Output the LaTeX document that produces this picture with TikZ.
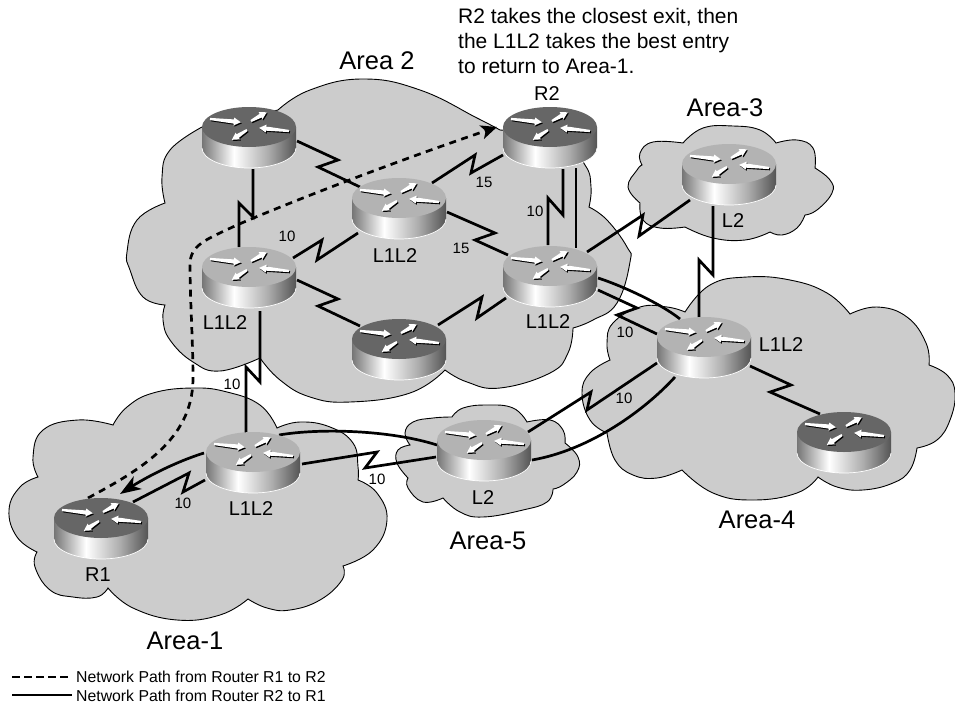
\documentclass[tikz,border=0pt]{standalone}
\usepackage{fontspec}
\setmainfont{Liberation Sans}
\usetikzlibrary{arrows.meta}
\definecolor{cloudgray}{HTML}{CCCCCC}
\definecolor{rlight}{HTML}{B3B3B3}
\definecolor{rdark}{HTML}{666666}
\definecolor{rb1}{gray}{0.46}
\definecolor{rb2}{gray}{1.00}
\definecolor{rb3}{gray}{0.68}
\definecolor{rb4}{gray}{0.33}
\pgfdeclarehorizontalshading{rbody}{100bp}{color(0bp)=(rb1); color(25bp)=(rb1); color(42bp)=(rb2); color(60bp)=(rb3); color(75bp)=(rb4); color(100bp)=(rb4)}
\newcommand{\rmark}[4]{%
  \begin{scope}[shift={(#1+1,#2+1.2)},rotate=#3]
    \fill[black] (0,-1.1)--(#4-7,-2.1)--(#4-7,-4)--(#4,0)--(#4-7,4)--(#4-7,2.1)--(0,1.1)--cycle;
  \end{scope}
  \begin{scope}[shift={(#1,#2)},rotate=#3]
    \fill[white] (0,-1.1)--(#4-7,-2.1)--(#4-7,-4)--(#4,0)--(#4-7,4)--(#4-7,2.1)--(0,1.1)--cycle;
  \end{scope}}
\tikzset{
  sm/.style={smooth,tension=0.75},
  routerbox/.style={minimum width=94pt,minimum height=62pt,inner sep=0pt,draw=none},
  cloud/.style={fill=cloudgray,draw=black,line width=0.9pt,line join=miter},
  link/.style={draw=black,line width=2.7pt,line join=miter,miter limit=10},
  dashpath/.style={draw=black,line width=2.7pt,dash pattern=on 7pt off 5.5pt},
  tipa/.style={-{Stealth[length=21pt,width=15pt,inset=6pt]}},
  tipb/.style={-{Stealth[length=16pt,width=14pt,inset=4pt]}},
  area/.style={font=\fontsize{25.5}{28}\selectfont,inner sep=0pt},
  rlabel/.style={font=\fontsize{20}{22}\selectfont,inner sep=0pt},
  metric/.style={font=\fontsize{15}{17}\selectfont,inner sep=0pt},
  legendtext/.style={font=\fontsize{15.8}{18}\selectfont,inner sep=0pt,anchor=west},
  pics/router/.style={code={
    \begin{scope}[shift={(0,-10)}]
      \shade[shading=rbody] (-47,0)--(-47,21) .. controls (-47,32) and (-26,41) .. (0,41) .. controls (26,41) and (47,32) .. (47,21)--(47,0)--cycle;
      \draw[white,line width=0.7pt] (-47,21) .. controls (-47,32) and (-26,41) .. (0,41) .. controls (26,41) and (47,32) .. (47,21);
      \fill[#1] (0,0) ellipse [x radius=47,y radius=20];
      \rmark{-39}{-8}{-6}{31}
      \rmark{2}{-6}{29}{18}
      \rmark{-2}{3}{213}{18}
      \rmark{40}{4}{174}{30}
    \end{scope}}}
}
\begin{document}
\begin{tikzpicture}[x=1pt,y=-1pt]
\useasboundingbox (0,0) rectangle (955,704);
% clouds
\filldraw[cloud] plot[sm] coordinates {(278,110)(310,90)(363,79)(420,90)(477,118)(500,130)}
 -- plot[sm] coordinates {(500,130)(560,140)(585,165)(591,187)(589,207)}
 -- plot[sm] coordinates {(589,207)(607,220)(627,247)(630,262)(617,303)(593,320)(573,328)}
 -- plot[sm] coordinates {(573,328)(568,353)(550,373)(500,388)(467,382)(445,370)}
 -- plot[sm] coordinates {(445,370)(410,393)(350,402)(310,397)(280,380)(260,358)}
 -- plot[sm] coordinates {(260,358)(220,371)(193,362)(170,340)(163,320)(165,305)}
 -- plot[sm] coordinates {(165,305)(143,297)(130,270)(127,252)(137,220)(165,203)}
 -- plot[sm] coordinates {(165,203)(162,177)(170,150)(202,127)}
 -- (278,110) -- cycle;
\filldraw[cloud] plot[sm] coordinates {(683,143)(703,128)(733,126)(760,130)(776,143)}
 -- plot[sm] coordinates {(776,143)(797,140)(813,148)(815,168)}
 -- plot[sm] coordinates {(815,168)(830,180)(832,193)(817,210)(805,215)}
 -- plot[sm] coordinates {(805,215)(797,228)(782,235)(770,232)}
 -- plot[sm] coordinates {(770,232)(745,240)(713,238)(685,227)}
 -- plot[sm] coordinates {(685,227)(660,228)(643,220)(640,203)}
 -- plot[sm] coordinates {(640,203)(628,187)(637,170)(642,165)}
 -- plot[sm] coordinates {(642,165)(640,153)(653,142)(683,143)} -- cycle;
\filldraw[cloud] plot[sm] coordinates {(685,312)(710,285)(747,277)(790,280)(827,293)(850,314)}
 -- plot[sm] coordinates {(850,314)(877,307)(907,317)(926,343)(929,365)}
 -- plot[sm] coordinates {(929,365)(947,375)(955,393)(950,420)(937,440)(917,448)}
 -- plot[sm] coordinates {(917,448)(910,470)(893,483)(863,490)(837,487)(818,477)}
 -- plot[sm] coordinates {(818,477)(797,493)(753,500)(713,493)(682,470)}
 -- plot[sm] coordinates {(682,470)(657,478)(633,475)(615,460)(607,433)}
 -- plot[sm] coordinates {(607,433)(590,420)(582,393)(590,373)(610,360)}
 -- plot[sm] coordinates {(610,360)(607,343)(613,323)(640,307)(667,307)(685,312)} -- cycle;
\filldraw[cloud] plot[sm] coordinates {(452,417)(463,408)(487,405)(513,408)(527,422)}
 -- plot[sm] coordinates {(527,422)(550,420)(563,430)(565,443)}
 -- plot[sm] coordinates {(565,443)(578,457)(577,472)(563,485)(553,489)}
 -- plot[sm] coordinates {(553,489)(547,502)(523,510)(483,517)(460,512)(443,498)}
 -- plot[sm] coordinates {(443,498)(423,502)(408,488)(408,478)}
 -- plot[sm] coordinates {(408,478)(397,463)(398,450)(410,445)}
 -- plot[sm] coordinates {(410,445)(405,433)(413,422)(433,418)(452,417)} -- cycle;
\filldraw[cloud] plot[sm] coordinates {(113,425)(78,420)(43,430)(33,457)(38,477)}
 -- plot[sm] coordinates {(38,477)(20,487)(9,510)(17,537)(37,552)}
 -- plot[sm] coordinates {(37,552)(35,567)(50,590)(73,597)(97,597)(108,588)}
 -- plot[sm] coordinates {(108,588)(133,608)(177,620)(220,615)(248,599)}
 -- plot[sm] coordinates {(248,599)(267,608)(290,610)(320,600)(342,580)(343,566)}
 -- plot[sm] coordinates {(343,566)(373,550)(387,520)(377,493)(358,480)}
 -- plot[sm] coordinates {(358,480)(358,467)(353,443)(330,427)(300,422)(277,428)}
 -- plot[sm] coordinates {(277,428)(260,405)(227,392)(193,388)(153,393)(127,407)(113,425)} -- cycle;
% router nodes
\node[routerbox] (A) at (249,137) {};
\node[routerbox] (B) at (399,208) {};
\node[routerbox] (C) at (249,277) {};
\node[routerbox] (D) at (399,349) {};
\node[routerbox] (R2) at (550,137) {};
\node[routerbox] (E) at (550,276) {};
\node[routerbox] (F) at (729,174) {};
\node[routerbox] (G) at (704,347) {};
\node[routerbox] (H) at (844,442) {};
\node[routerbox] (I) at (484,450) {};
\node[routerbox] (J) at (253,462) {};
\node[routerbox] (R1) at (101,528) {};
% serial links
\draw[link] ([shift={(4,32)}]A.center) -- (253,217) -- (239,203) -- ([shift={(-10,-30)}]C.center);
\draw[link] ([shift={(48,4)}]A.center) -- (338,160) -- (318,167) -- ([shift={(-39,-21)}]B.center);
\draw[link] ([shift={(44,-19)}]C.center) -- (322,240) -- (317,260) -- ([shift={(-41,25)}]B.center);
\draw[link] ([shift={(48,3)}]C.center) -- (338,299) -- (318,306) -- ([shift={(-39,-23)}]D.center);
\draw[link] ([shift={(33,-25)}]B.center) -- (475,155) -- (471,173) -- ([shift={(-47,18)}]R2.center);
\draw[link] ([shift={(48,4)}]B.center) -- (495,233) -- (475,240) -- ([shift={(-42,-21)}]E.center);
\draw[link] ([shift={(13,32)}]R2.center) -- (563,215) -- (548,198) -- ([shift={(-2,-31)}]E.center);
\draw[link] ([shift={(26,31)}]R2.center) -- ([shift={(26,-28)}]E.center);
\draw[link] ([shift={(39,-24)}]D.center) -- (482,297) -- (477,318) -- ([shift={(-44,22)}]E.center);
\draw[link] ([shift={(37,-24)}]E.center) -- (643,215) -- (639,236) -- ([shift={(-39,26)}]F.center);
\draw[link] ([shift={(-16,32)}]F.center) -- (713,275) -- (699,260) -- ([shift={(-5,-30)}]G.center);
\draw[link] ([shift={(48,14)}]E.center) -- (637,308) -- (617,315) -- ([shift={(-47,-13)}]G.center);
\draw[link] ([shift={(48,2)}]E.center) .. controls (620,285) and (660,303) .. ([shift={(-24,-28)}]G.center);
\draw[link] ([shift={(-47,16)}]G.center) -- (587,410) -- (591,392) -- ([shift={(44,-18)}]I.center);
\draw[link] ([shift={(-29,30)}]G.center) .. controls (645,410) and (590,450) .. ([shift={(48,10)}]I.center);
\draw[link] ([shift={(46,19)}]G.center) -- (791,385) -- (770,392) -- ([shift={(-24,-28)}]H.center);
\draw[link] ([shift={(11,34)}]C.center) -- (260,382) -- (246,367) -- ([shift={(-7,-29)}]J.center);
\draw[link] ([shift={(-48,18)}]J.center) -- (183,492) -- (189,473) -- ([shift={(32,-26)}]R1.center);
\draw[link,tipa] ([shift={(-49,-9)}]J.center) .. controls (175,462) and (145,478) .. ([shift={(19,-34)}]R1.center);
\draw[link] ([shift={(49,2)}]J.center) -- (377,452) -- (365,468) -- ([shift={(-48,7)}]I.center);
\draw[link] ([shift={(26,-27)}]J.center) .. controls (320,428) and (390,430) .. ([shift={(-47,-5)}]I.center);
% dashed path R1 to R2
\draw[dashpath,tipb] ([shift={(-13,-30)}]R1.center) .. controls (140,470) and (192,440) .. (193,380) .. controls (193,340) and (190,300) .. (190,265) .. controls (190,245) and (205,240) .. (237,225) .. controls (300,198) and (400,160) .. ([shift={(-53,-10)}]R2.center);
% routers
\pic at (A) {router=rdark};
\pic at (D) {router=rdark};
\pic at (R2) {router=rdark};
\pic at (H) {router=rdark};
\pic at (R1) {router=rdark};
\pic at (B) {router=rlight};
\pic at (C) {router=rlight};
\pic at (E) {router=rlight};
\pic at (F) {router=rlight};
\pic at (G) {router=rlight};
\pic at (I) {router=rlight};
\pic at (J) {router=rlight};
% labels
\node[area] (a2) at (377,61) {Area 2};
\node[area] (a3) at (725,108) {Area-3};
\node[area] (a4) at (757,520) {Area-4};
\node[area] (a5) at (488,541) {Area-5};
\node[area] (a1) at (185,641) {Area-1};
\node[rlabel] (lb) at (395,256) {L1L2};
\node[rlabel] (lc) at (225,323) {L1L2};
\node[rlabel] (le) at (548,322) {L1L2};
\node[rlabel] (lg) at (781,345) {L1L2};
\node[rlabel] (lj) at (251,509) {L1L2};
\node[rlabel] (lr1) at (98,575) {R1};
\node[rlabel] (lr2) at (547,94) {R2};
\node[rlabel] (lf) at (733,221) {L2};
\node[rlabel] (li) at (483,498) {L2};
\node[metric] (m1) at (287,236) {10};
\node[metric] (m2) at (484,182) {15};
\node[metric] (m3) at (461,248) {15};
\node[metric] (m4) at (535,211) {10};
\node[metric] (m5) at (232,384) {10};
\node[metric] (m6) at (183,503) {10};
\node[metric] (m7) at (377,479) {10};
\node[metric] (m8) at (625,332) {10};
\node[metric] (m9) at (624,398) {10};
\node[anchor=north west,inner sep=0pt,align=left,font=\fontsize{21}{25}\selectfont] (note) at (458,8) {R2 takes the closest exit, then\\the L1L2 takes the best entry\\to return to Area-1.};
% legend
\coordinate (ld1) at (12,677);
\coordinate (ld2) at (71,677);
\coordinate (ls1) at (12,695);
\coordinate (ls2) at (72,695);
\draw[draw=black,line width=2.2pt,dash pattern=on 8pt off 4pt] (ld1) -- (ld2);
\draw[draw=black,line width=2.2pt] (ls1) -- (ls2);
\node[legendtext] (t1) at (76,677) {Network Path from Router R1 to R2};
\node[legendtext] (t2) at (76,696) {Network Path from Router R2 to R1};
\end{tikzpicture}
\end{document}
